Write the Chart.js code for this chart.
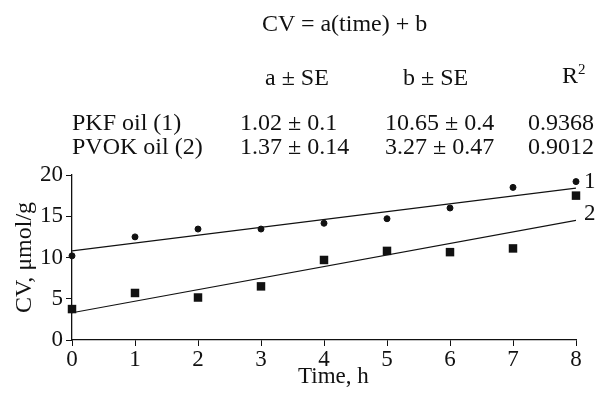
<!DOCTYPE html>
<html>
<head>
<meta charset="utf-8">
<script src="https://cdn.jsdelivr.net/npm/chart.js@4.4.1/dist/chart.umd.min.js"></script>
<style>
    body { margin: 0; background: #fff; }
    #wrap { position: relative; width: 595px; height: 395px; font-family: "Liberation Serif", serif; font-size: 24px; color: #111; }
    #wrap canvas { position: absolute; left: 0; top: 0; }
    .t { position: absolute; line-height: 24px; white-space: nowrap; }
    .t sup { font-size: 15px; vertical-align: 9px; line-height: 0; }
</style>
</head>
<body>
<div id="wrap">
    <canvas id="grafico" width="595" height="395"></canvas>
    <div class="t" style="left:262px; top:11px;">CV = a(time) + b</div>
    <div class="t" style="left:265px; top:65px;">a ± SE</div>
    <div class="t" style="left:403px; top:65px;">b ± SE</div>
    <div class="t" style="left:562px; top:63px;">R<sup>2</sup></div>
    <div class="t" style="left:72px; top:110px;">PKF oil (1)</div>
    <div class="t" style="left:240px; top:110px;">1.02 ± 0.1</div>
    <div class="t" style="left:385px; top:110px;">10.65 ± 0.4</div>
    <div class="t" style="left:528px; top:110px;">0.9368</div>
    <div class="t" style="left:72px; top:134px;">PVOK oil (2)</div>
    <div class="t" style="left:240px; top:134px;">1.37 ± 0.14</div>
    <div class="t" style="left:385px; top:134px;">3.27 ± 0.47</div>
    <div class="t" style="left:528px; top:134px;">0.9012</div>
    <div class="t" style="left:298px; top:364px; font-size:23px; line-height:23px;">Time, h</div>
</div>
<script>
// datos
var tiempo = [0, 1, 2, 3, 4, 5, 6, 7, 8];
var cvPKF = [10.2, 12.5, 13.45, 13.45, 14.15, 14.7, 16.0, 18.5, 19.2];
var cvPVOK = [3.75, 5.7, 5.15, 6.5, 9.7, 10.8, 10.65, 11.1, 17.5];
// rectas de ajuste (extremos en t = 0 y t = 8)
var ajusteX = [0, 8];
var ajustePKF = [10.8, 18.4];
var ajustePVOK = [3.3, 14.5];
var etiquetas = ['1', '2'];
var ticksY = [0, 5, 10, 15, 20];

function puntos(xs, ys) {
    var lista = [];
    for (var i in xs) {
        lista.push({x: xs[i], y: ys[i]});
    }
    return lista;
}

var fuente = {family: 'Liberation Serif', size: 23};

// numeros 1 y 2 al final de cada recta
var etiquetasRectas = {
    id: 'etiquetasRectas',
    afterDatasetsDraw: function (chart) {
        var ctx = chart.ctx;
        var xs = chart.scales.x;
        var ys = chart.scales.y;
        var finales = [ajustePKF[1], ajustePVOK[1]];
        ctx.save();
        ctx.fillStyle = '#111';
        ctx.font = '23px "Liberation Serif"';
        ctx.textBaseline = 'middle';
        for (var i in etiquetas) {
            ctx.fillText(etiquetas[i], xs.getPixelForValue(8) + 8, ys.getPixelForValue(finales[i]) - 6);
        }
        ctx.restore();
    }
};

var ctx = document.getElementById('grafico').getContext('2d');
var miGrafico = new Chart(ctx, {
    type: 'scatter',
    data: {
        datasets: [{
                label: 'PKF oil (1)',
                data: puntos(tiempo, cvPKF),
                pointStyle: 'circle',
                pointRadius: 3,
                backgroundColor: '#111',
                borderColor: '#111',
                clip: false
            }, {
                label: 'PVOK oil (2)',
                data: puntos(tiempo, cvPVOK),
                pointStyle: 'rect',
                pointRadius: 6,
                borderWidth: 0,
                backgroundColor: '#111',
                borderColor: '#111',
                clip: false
            }, {
                label: 'ajuste 1',
                data: puntos(ajusteX, ajustePKF),
                showLine: true,
                pointRadius: 0,
                borderWidth: 1.2,
                borderColor: '#111'
            }, {
                label: 'ajuste 2',
                data: puntos(ajusteX, ajustePVOK),
                showLine: true,
                pointRadius: 0,
                borderWidth: 1.2,
                borderColor: '#111'
            }]
    },
    options: {
        responsive: false,
        animation: false,
        layout: {padding: {left: 0, top: 175, right: 19, bottom: 0}},
        plugins: {
            legend: {display: false},
            tooltip: {enabled: false}
        },
        scales: {
            x: {
                type: 'linear',
                min: 0,
                max: 8,
                afterFit: function (escala) { escala.height = 55; },
                grid: {drawOnChartArea: false, drawTicks: true, tickLength: 6, color: '#111'},
                border: {color: '#111', width: 1.3},
                ticks: {stepSize: 1, padding: 0, color: '#111', font: fuente, maxRotation: 0}
            },
            y: {
                type: 'linear',
                min: 0,
                max: 20,
                afterFit: function (escala) { escala.width = 72; },
                afterBuildTicks: function (escala) {
                    escala.ticks = ticksY.map(function (v) { return {value: v}; });
                },
                grid: {drawOnChartArea: false, drawTicks: true, tickLength: 6, color: '#111'},
                border: {color: '#111', width: 1.3},
                ticks: {padding: 3, color: '#111', font: fuente},
                title: {display: true, text: 'CV, μmol/g', color: '#111', font: {family: 'Liberation Serif', size: 24}, padding: {top: 10, bottom: 0}}
            }
        }
    },
    plugins: [etiquetasRectas]
});
</script>
</body>
</html>
